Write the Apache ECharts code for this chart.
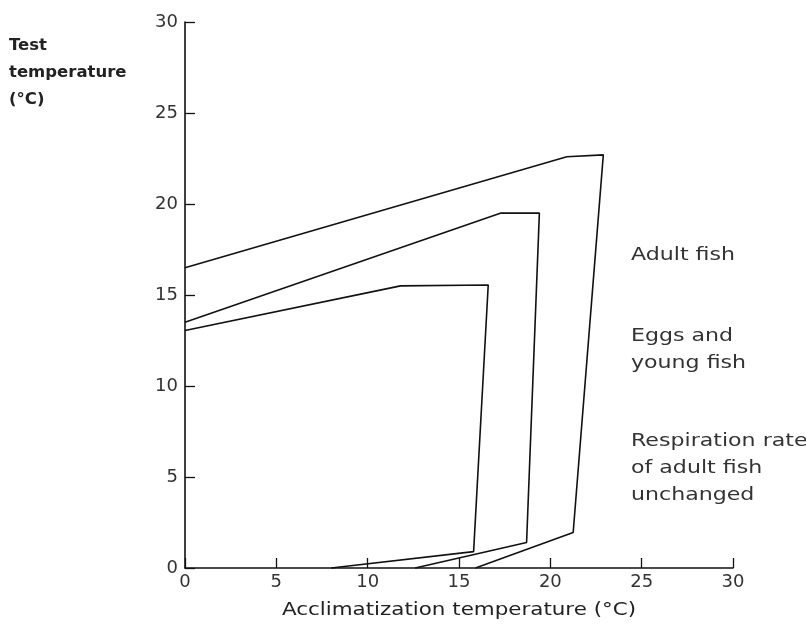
<!DOCTYPE html>
<html><head><meta charset="utf-8">
<script src="https://cdn.jsdelivr.net/npm/echarts@6/dist/echarts.min.js"></script>
<style>html,body{margin:0;padding:0;background:#fff}#c{width:806px;height:638px}</style>
</head><body><div id="c"></div>
<script>
const xTicks = [0, 5, 10, 15, 20, 25, 30];
const yTicks = [0, 5, 10, 15, 20, 25, 30];
const adultFish = [[0, 16.5], [20.9, 22.6], [22.9, 22.7], [21.25, 1.95], [15.9, 0]];
const eggsYoung = [[0, 13.5], [17.3, 19.5], [19.4, 19.5], [18.7, 1.4], [12.6, 0]];
const respiration = [[0, 13.05], [11.8, 15.5], [16.6, 15.55], [15.8, 0.9], [8.0, 0]];
const labels = [
  {text: 'Adult fish', x: 631, y: 242},
  {text: 'Eggs and\nyoung fish', x: 631, y: 323},
  {text: 'Respiration rate\nof adult fish\nunchanged', x: 631, y: 428}
];
const xName = 'Acclimatization temperature (°C)';

const chart = echarts.init(document.getElementById('c'));
const lineStyle = {color: '#111', width: 1.6};
const mk = (name, d) => ({name, type: 'line', data: d, symbol: 'none', lineStyle, silent: true, clip: false});
const FONT = 'DejaVu Sans';
chart.setOption({
  animation: false,
  grid: {left: 185, right: 73, top: 22, bottom: 70},
  xAxis: {
    type: 'value', min: 0, max: 30, interval: 5,
    axisLine: {lineStyle: {color: '#111', width: 1.6}},
    axisTick: {inside: true, length: 10, lineStyle: {color: '#111', width: 1.3}},
    axisLabel: {fontFamily: FONT, fontSize: 18, color: '#333', margin: 5,
      formatter: v => xTicks.includes(v) ? String(v) : ''},
    splitLine: {show: false}
  },
  yAxis: {
    type: 'value', min: 0, max: 30, interval: 5,
    axisLine: {show: true, lineStyle: {color: '#111', width: 1.6}},
    axisTick: {show: true, inside: true, length: 10, lineStyle: {color: '#111', width: 1.3}},
    axisLabel: {fontFamily: FONT, fontSize: 18, color: '#333', margin: 7,
      formatter: v => yTicks.includes(v) ? String(v) : ''},
    splitLine: {show: false}
  },
  graphic: [
    {type: 'text', x: 9, y: 33, scaleX: 1.1, style: {text: 'Test\ntemperature\n(°C)', font: '600 15px "DejaVu Sans"', fill: '#222', lineHeight: 27}},
    {type: 'text', x: 459, y: 610, scaleX: 1.19, style: {text: xName, font: '18px "DejaVu Sans"', fill: '#222', align: 'center', verticalAlign: 'middle'}},
    ...labels.map(l => ({type: 'text', x: l.x, y: l.y, scaleX: 1.3, style: {text: l.text, font: '17px "DejaVu Sans"', fill: '#333', lineHeight: 27}}))
  ],
  series: [mk('Adult fish', adultFish), mk('Eggs and young fish', eggsYoung), mk('Respiration rate of adult fish unchanged', respiration)]
});
</script></body></html>
